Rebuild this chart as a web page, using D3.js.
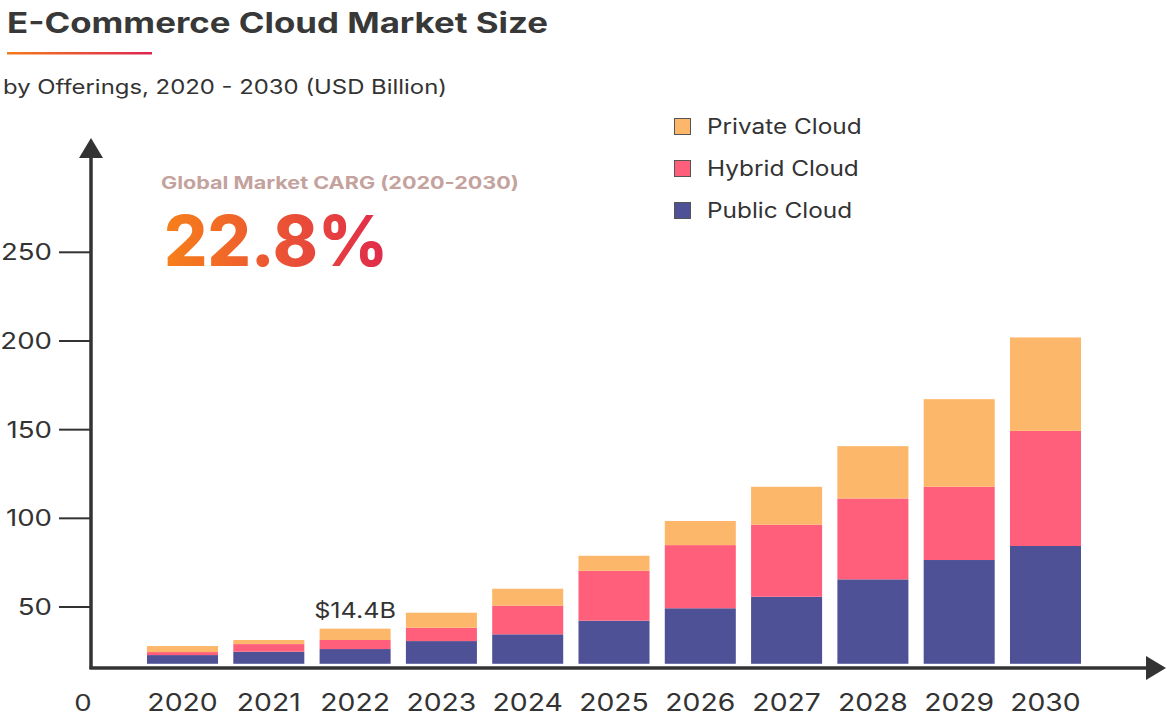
<!DOCTYPE html>
<html>
<head>
<meta charset="utf-8">
<script src="https://cdn.jsdelivr.net/npm/d3@7/dist/d3.min.js"></script>
<style>
  html, body { margin: 0; padding: 0; background: #fff; }
  svg { display: block; font-family: Inter, "Noto Sans", sans-serif; }
</style>
</head>
<body>
<svg id="chart" width="1167" height="718"></svg>
<script>
// values (USD billion, on the printed tick scale)
var years = ["2020", "2021", "2022", "2023", "2024", "2025", "2026", "2027", "2028", "2029", "2030"]
var publicCloud = [4.9, 6.8, 8.3, 12.8, 16.6, 24.3, 31.3, 37.8, 47.6, 58.5, 66.4]
var hybridCloud = [1.7, 4.3, 5.1, 7.5, 16.1, 28.1, 35.6, 40.6, 45.6, 41.3, 64.9]
var privateCloud = [3.4, 2.3, 6.4, 8.5, 9.6, 8.5, 13.6, 21.4, 29.5, 49.4, 52.7]
var yTicks = [50, 100, 150, 200, 250]
var axisBase = 18 // bars stand on the drawn x axis, which sits at ~18 on the tick scale
var seriesNames = ["Public Cloud", "Hybrid Cloud", "Private Cloud"]
var seriesColors = ["#4e5196", "#ff5f7a", "#fdb76a"]
var cagrLabel = "Global Market CARG (2020-2030)"
var cagrValue = "22.8%"
var note = { year: "2022", text: "$14.4B" }

var svg = d3.select("#chart")
var defs = svg.append("defs")

var grad = defs.append("linearGradient").attr("id", "warm").attr("x1", "0%").attr("x2", "100%")
grad.append("stop").attr("offset", "0%").attr("stop-color", "#f47c1c")
grad.append("stop").attr("offset", "100%").attr("stop-color", "#dd2452")

var grad2 = defs.append("linearGradient").attr("id", "warm2").attr("x1", "0%").attr("x2", "100%")
grad2.append("stop").attr("offset", "0%").attr("stop-color", "#f7801a")
grad2.append("stop").attr("offset", "100%").attr("stop-color", "#e02a4c")

// the original face is a wide geometric sans, so widen Inter glyphs a bit
function widen(sel, k) {
  sel.each(function () {
    var w = this.getComputedTextLength()
    d3.select(this).attr("textLength", w * k).attr("lengthAdjust", "spacingAndGlyphs")
  })
}

var axisY = 668
var axisX = 91

var x = d3.scaleBand().domain(years).range([147, 1081]).paddingInner(0.177).paddingOuter(0)
var y = d3.scaleLinear().domain([0, 250]).range([695.7, 252.3])

var rows = years.map(function (yr, i) {
  return { year: yr, pub: publicCloud[i], hyb: hybridCloud[i], priv: privateCloud[i] }
})
var stacked = d3.stack().keys(["pub", "hyb", "priv"])(rows)

// title block
svg.append("text")
  .attr("x", 7).attr("y", 33)
  .attr("font-size", 28).attr("font-weight", 700).attr("fill", "#383838")
  .attr("textLength", 541).attr("lengthAdjust", "spacingAndGlyphs")
  .text("E-Commerce Cloud Market Size")

svg.append("rect")
  .attr("x", 7).attr("y", 52).attr("width", 145).attr("height", 2.5)
  .attr("fill", "url(#warm)")

svg.append("text")
  .attr("x", 3).attr("y", 94)
  .attr("font-size", 20).attr("fill", "#333")
  .attr("textLength", 444).attr("lengthAdjust", "spacingAndGlyphs")
  .text("by Offerings, 2020 - 2030 (USD Billion)")

svg.append("text")
  .attr("x", 161).attr("y", 189)
  .attr("font-size", 17.5).attr("font-weight", 700).attr("fill", "#c4a29d")
  .attr("textLength", 358).attr("lengthAdjust", "spacingAndGlyphs")
  .text(cagrLabel)

svg.append("text")
  .attr("x", 164).attr("y", 266)
  .attr("font-size", 70).attr("font-weight", 800).attr("fill", "url(#warm2)")
  .attr("textLength", 224).attr("lengthAdjust", "spacingAndGlyphs")
  .text(cagrValue)

// bars
var layers = svg.append("g").selectAll("g")
  .data(stacked)
  .enter().append("g")
  .attr("fill", function (d, i) { return seriesColors[i] })

layers.selectAll("rect")
  .data(function (d) { return d })
  .enter().append("rect")
  .attr("x", function (d) { return x(d.data.year) })
  .attr("width", x.bandwidth())
  .attr("y", function (d) { return y(d[1] + axisBase) })
  .attr("height", function (d) { return y(d[0] + axisBase) - y(d[1] + axisBase) })

// annotation over 2022
var noteIdx = years.indexOf(note.year)
svg.append("text")
  .attr("x", x(note.year) + x.bandwidth() / 2)
  .attr("y", y(stacked[2][noteIdx][1] + axisBase) - 11)
  .attr("text-anchor", "middle")
  .attr("font-size", 21).attr("fill", "#333")
  .text(note.text)
  .call(widen, 1.2)

// y axis
svg.append("line")
  .attr("x1", axisX).attr("x2", axisX)
  .attr("y1", axisY + 1).attr("y2", 156)
  .attr("stroke", "#333").attr("stroke-width", 3.5)
svg.append("path")
  .attr("d", d3.line()([[axisX - 12, 158], [axisX, 138], [axisX + 12, 158]]) + "Z")
  .attr("fill", "#333")

var yt = svg.append("g").selectAll("g").data(yTicks).enter().append("g")
yt.append("line")
  .attr("x1", 59).attr("x2", axisX)
  .attr("y1", function (d) { return y(d) }).attr("y2", function (d) { return y(d) })
  .attr("stroke", "#333").attr("stroke-width", 2)
yt.append("text")
  .attr("x", 52).attr("y", function (d) { return y(d) })
  .attr("dy", "0.35em").attr("text-anchor", "end")
  .attr("font-size", 23).attr("fill", "#333")
  .text(function (d) { return d })
  .call(widen, 1.2)

svg.append("text")
  .attr("x", 83).attr("y", y(0) + 7)
  .attr("dy", "0.35em").attr("text-anchor", "middle")
  .attr("font-size", 23).attr("fill", "#333")
  .text("0")
  .call(widen, 1.2)

// x axis
svg.append("line")
  .attr("x1", axisX - 1.5).attr("x2", 1148)
  .attr("y1", axisY).attr("y2", axisY)
  .attr("stroke", "#333").attr("stroke-width", 3.5)
svg.append("path")
  .attr("d", d3.line()([[1146, axisY - 12], [1166, axisY], [1146, axisY + 12]]) + "Z")
  .attr("fill", "#333")

svg.append("g").selectAll("text")
  .data(years).enter().append("text")
  .attr("x", function (d) { return x(d) + x.bandwidth() / 2 })
  .attr("y", 711)
  .attr("text-anchor", "middle")
  .attr("font-size", 24).attr("fill", "#333")
  .text(function (d) { return d })
  .call(widen, 1.18)

// legend
var legend = svg.append("g").selectAll("g")
  .data([2, 1, 0]).enter().append("g")
  .attr("transform", function (d, i) { return "translate(674," + (118 + i * 42) + ")" })
legend.append("rect")
  .attr("x", 0.5).attr("y", 0.5).attr("width", 16).attr("height", 16)
  .attr("fill", function (d) { return seriesColors[d] })
  .attr("stroke", "#555").attr("stroke-width", 1)
legend.append("text")
  .attr("x", 33).attr("y", 8.5).attr("dy", "0.35em")
  .attr("font-size", 21).attr("fill", "#333")
  .text(function (d) { return seriesNames[d] })
  .call(widen, 1.16)
</script>
</body>
</html>
